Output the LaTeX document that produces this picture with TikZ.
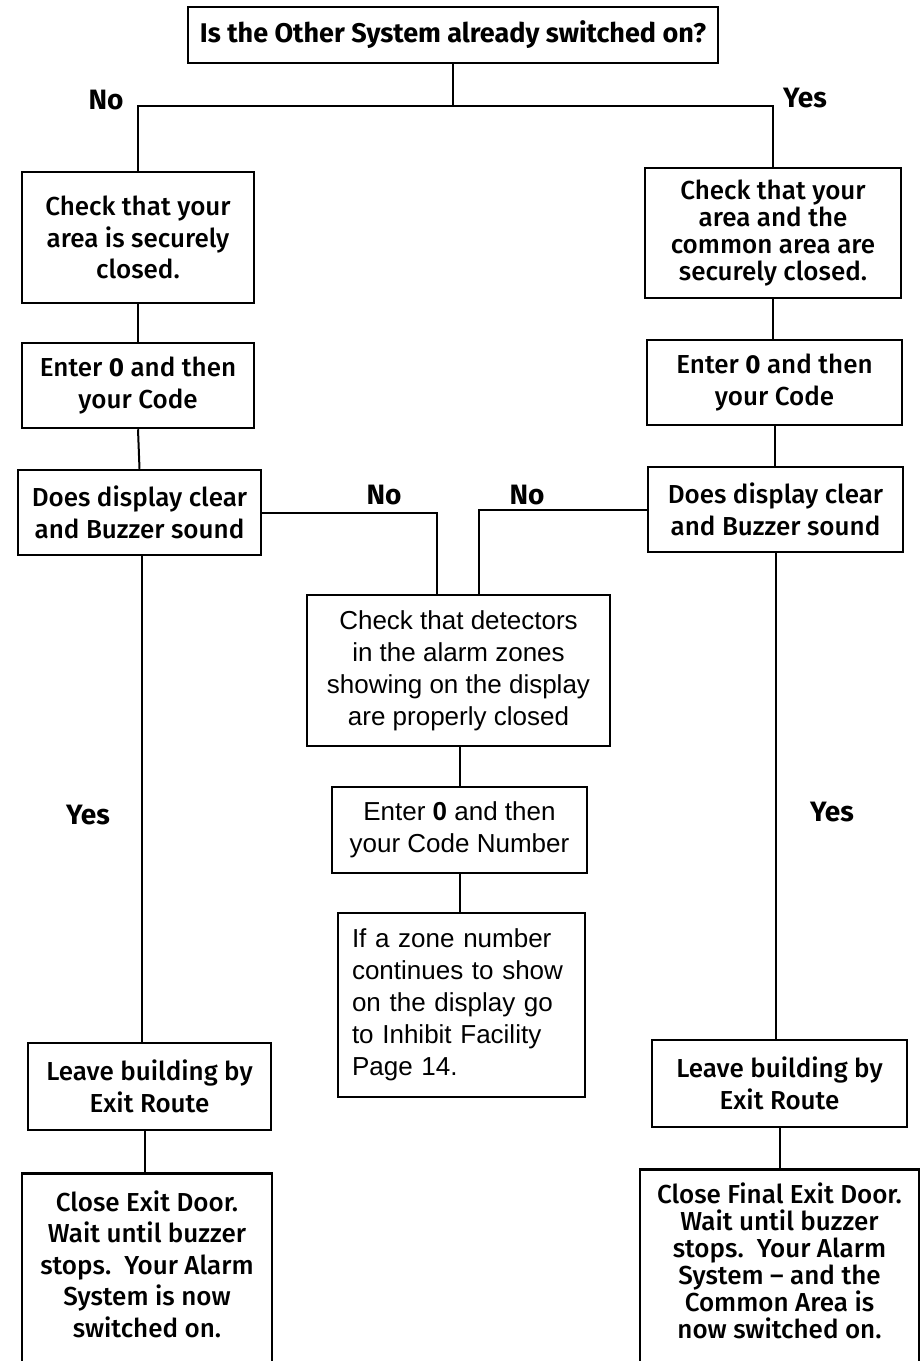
\documentclass[tikz,border=0pt]{standalone}
\usepackage{fontspec}
\IfFontExistsTF{Fira Sans Medium}
  {\setmainfont{Fira Sans Medium}[BoldFont=Fira Sans Bold]}
  {\setmainfont{Fira Sans}}
\newfontfamily\helv{Liberation Sans}
\begin{document}
\begin{tikzpicture}[x=1pt,y=-1pt,
  box/.style={draw, line width=2.5pt, inner sep=0pt, align=center, font=\fontsize{26}{31.5}\selectfont},
  tightbox/.style={box, font=\fontsize{26}{27}\selectfont},
  hbox/.style={box, font=\helv\fontsize{26}{32}\selectfont},
  txt/.style={inner sep=0pt, align=center, font=\fontsize{26}{31.5}\selectfont},
  lbl/.style={inner sep=0pt, font=\bfseries\fontsize{28}{30}\selectfont},
  conn/.style={line width=2pt}]
\useasboundingbox (0,0) rectangle (922,1361);
\clip (0,0) rectangle (922,1361);
% top question
\node[box, minimum width=530pt, minimum height=56pt, font=\bfseries\fontsize{27}{31}\selectfont] (top) at (453,35) {Is the Other System already switched on?};
% left column
\node[box, minimum width=232pt, minimum height=131pt] (L1) at (138,237.5) {Check that your\\area is securely\\closed.};
\node[box, minimum width=232pt, minimum height=85pt] (L2) at (138,385.5) {Enter \textbf{0} and then\\your Code};
\node[box, minimum width=243pt, minimum height=85pt] (L3) at (139.5,512.5) {Does display clear\\and Buzzer sound};
\node[box, minimum width=243pt, minimum height=87pt] (L4) at (149.5,1086.5) {Leave building by\\Exit Route};
\node[box, minimum width=250pt, minimum height=240pt, anchor=north] (L5) at (147,1172) {};
\node[txt] (L5t) at (147,1264) {Close Exit Door.\\Wait until buzzer\\stops.\ \ Your Alarm\\System is now\\switched on.};
% right column
\node[tightbox, minimum width=256pt, minimum height=130pt] (R1) at (773,233) {Check that your\\area and the\\common area are\\securely closed.};
\node[box, minimum width=255pt, minimum height=85pt] (R2) at (774.5,382.5) {Enter \textbf{0} and then\\your Code};
\node[box, minimum width=255pt, minimum height=85pt] (R3) at (775.5,509.5) {Does display clear\\and Buzzer sound};
\node[box, minimum width=255pt, minimum height=87pt] (R4) at (779.5,1083.5) {Leave building by\\Exit Route};
\node[box, minimum width=279pt, minimum height=240pt, anchor=north] (R5) at (779.5,1168) {};
\node[txt, font=\fontsize{26}{27}\selectfont] (R5t) at (779.5,1261) {Close Final Exit Door.\\Wait until buzzer\\stops.\ \ Your Alarm\\System -- and the\\Common Area is\\now switched on.};
% middle column
\node[hbox, minimum width=303pt, minimum height=151pt] (M1) at (458.5,670.5) {Check that detectors\\in the alarm zones\\showing on the display\\are properly closed};
\node[hbox, minimum width=255pt, minimum height=86pt] (M2) at (459.5,830) {Enter \textbf{0} and then\\your Code Number};
\node[hbox, align=left, text width=219pt, inner xsep=14pt, minimum height=184pt] (M3) at (461.5,1005) {If a zone number\\continues to show\\on the display go\\to Inhibit Facility\\Page 14.};
% labels
\node[lbl] (noA) at (106,100) {No};
\node[lbl] (yesA) at (805,98) {Yes};
\node[lbl] (noB) at (384,495) {No};
\node[lbl] (noC) at (527,495) {No};
\node[lbl] (yesB) at (88,815) {Yes};
\node[lbl] (yesC) at (832,812) {Yes};
% coordinates
\coordinate (bar) at (455,106);
\coordinate (colL) at (142,0);
\coordinate (colL2) at (145,0);
\coordinate (mL) at (437,0);
\coordinate (mR) at (479,0);
\coordinate (colM) at (460,0);
% connectors
\draw[conn] (top.south) -- (top.south |- bar);
\draw[conn] (L1.north) -- (L1.north |- bar) -- (R1.north |- bar) -- (R1.north);
\draw[conn] (L1.south) -- (L2.north);
\draw[conn] (L2.south) -- (L3.north);
\draw[conn] (L3.south -| colL) -- (L4.north -| colL);
\draw[conn] (L4.south -| colL2) -- (L5.north -| colL2);
\draw[conn] (R1.south) -- (R1.south |- R2.north);
\draw[conn] (R2.south) -- (R2.south |- R3.north);
\draw[conn] (R3.south) -- (R3.south |- R4.north);
\draw[conn] (R4.south) -- (R5.north);
\draw[conn] (L3.east) -| (M1.north -| mL);
\draw[conn] (R3.west) -| (M1.north -| mR);
\draw[conn] (M1.south -| colM) -- (M2.north -| colM);
\draw[conn] (M2.south -| colM) -- (M3.north -| colM);
\end{tikzpicture}
\end{document}
